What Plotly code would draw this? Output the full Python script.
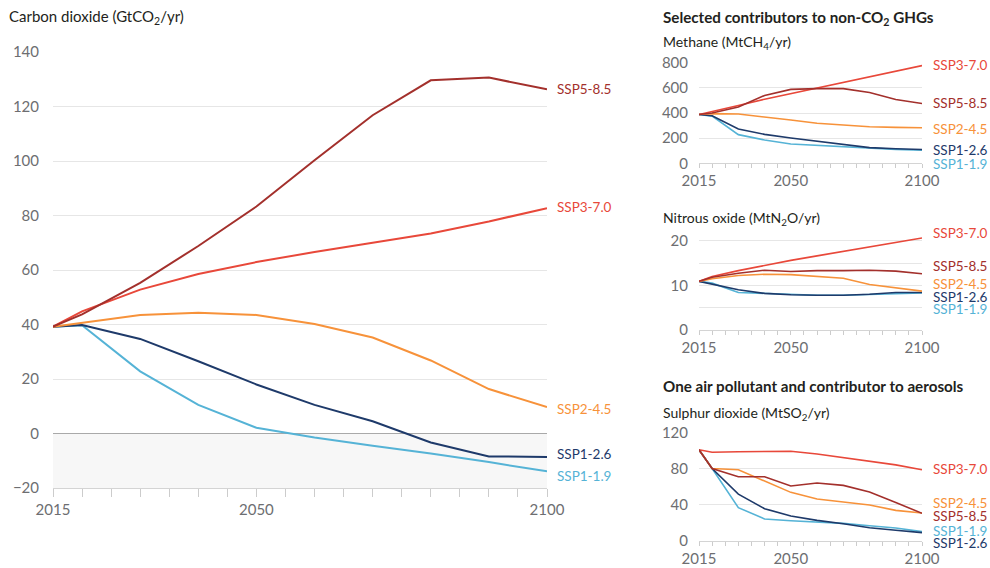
import plotly.graph_objects as go

# ---------------------------------------------------------------------------
# Emission pathways by scenario (IPCC SSP scenarios)
# ---------------------------------------------------------------------------
years = [2015, 2020, 2030, 2040, 2050, 2060, 2070, 2080, 2090, 2100]
scenarios = ["SSP1-1.9", "SSP1-2.6", "SSP2-4.5", "SSP3-7.0", "SSP5-8.5"]

# Carbon dioxide (GtCO2/yr)
co2_ssp119 = [39.2, 39.7, 22.8, 10.5, 2.1, -1.5, -4.5, -7.3, -10.5, -13.9]
co2_ssp126 = [39.2, 39.8, 34.7, 26.5, 18.0, 10.5, 4.5, -3.3, -8.4, -8.6]
co2_ssp245 = [39.2, 40.6, 43.5, 44.3, 43.5, 40.2, 35.2, 26.8, 16.3, 9.7]
co2_ssp370 = [39.2, 44.8, 52.8, 58.5, 62.9, 66.6, 70.0, 73.4, 77.8, 82.7]
co2_ssp585 = [39.2, 43.7, 55.3, 68.8, 83.3, 100.3, 116.8, 129.6, 130.6, 126.3]

# Methane (MtCH4/yr)
ch4_ssp119 = [388, 375, 228, 185, 154, 143, 132, 117, 111, 104]
ch4_ssp126 = [388, 378, 273, 230, 201, 175, 151, 125, 116, 110]
ch4_ssp245 = [388, 395, 392, 371, 344, 318, 305, 291, 286, 283]
ch4_ssp370 = [388, 410, 460, 510, 555, 600, 643, 687, 733, 777]
ch4_ssp585 = [388, 400, 447, 540, 588, 594, 594, 563, 508, 476]

# Nitrous oxide (MtN2O/yr)
n2o_ssp119 = [10.9, 10.5, 8.4, 8.2, 7.9, 7.8, 7.8, 8.0, 8.2, 8.3]
n2o_ssp126 = [10.9, 10.3, 9.0, 8.2, 7.9, 7.8, 7.8, 8.0, 8.4, 8.4]
n2o_ssp245 = [10.9, 11.5, 12.2, 12.5, 12.4, 12.0, 11.6, 10.2, 9.4, 8.7]
n2o_ssp370 = [10.9, 12.0, 13.3, 14.5, 15.6, 16.6, 17.6, 18.6, 19.6, 20.6]
n2o_ssp585 = [10.9, 11.8, 12.7, 13.4, 13.1, 13.3, 13.3, 13.4, 13.2, 12.6]

# Sulphur dioxide (MtSO2/yr)
so2_ssp119 = [100.7, 80.0, 36.8, 24.3, 22.4, 21.3, 19.5, 16.9, 14.3, 10.3]
so2_ssp126 = [100.7, 80.0, 51.8, 35.7, 27.6, 22.8, 19.1, 14.7, 11.8, 9.2]
so2_ssp245 = [100.7, 80.0, 78.7, 66.5, 53.7, 46.3, 42.6, 39.7, 33.8, 30.9]
so2_ssp370 = [100.7, 98.0, 98.5, 99.0, 99.0, 96.0, 92.0, 87.5, 84.0, 78.7]
so2_ssp585 = [100.7, 80.0, 71.0, 71.0, 60.7, 64.0, 61.4, 54.0, 42.6, 30.5]

# ---------------------------------------------------------------------------
# Styling
# ---------------------------------------------------------------------------
FONT = "Lato, 'Open Sans', sans-serif"
TICK_GREY = "#6d6e71"
TEXT_DARK = "#231f20"
GRID = "#e6e6e6"

colors = {
    "SSP1-1.9": "#55b3d6",
    "SSP1-2.6": "#1e3a6a",
    "SSP2-4.5": "#f7923a",
    "SSP3-7.0": "#e8483a",
    "SSP5-8.5": "#a3302c",
}

panels = [
    # (series per scenario, x axis id, y axis id, line width)
    ([co2_ssp119, co2_ssp126, co2_ssp245, co2_ssp370, co2_ssp585], "x", "y", 2.0),
    ([ch4_ssp119, ch4_ssp126, ch4_ssp245, ch4_ssp370, ch4_ssp585], "x2", "y2", 1.6),
    ([n2o_ssp119, n2o_ssp126, n2o_ssp245, n2o_ssp370, n2o_ssp585], "x3", "y3", 1.6),
    ([so2_ssp119, so2_ssp126, so2_ssp245, so2_ssp370, so2_ssp585], "x4", "y4", 1.6),
]

W, H = 990, 568

# vertical pixel position of the end-of-line scenario labels, nudged apart
label_px = [
    {"SSP1-1.9": 476, "SSP1-2.6": 454, "SSP2-4.5": 409, "SSP3-7.0": 207, "SSP5-8.5": 89},
    {"SSP1-1.9": 164, "SSP1-2.6": 150, "SSP2-4.5": 129, "SSP3-7.0": 65, "SSP5-8.5": 103},
    {"SSP1-1.9": 309, "SSP1-2.6": 297, "SSP2-4.5": 284, "SSP3-7.0": 233, "SSP5-8.5": 266},
    {"SSP1-1.9": 531, "SSP1-2.6": 543, "SSP2-4.5": 503, "SSP3-7.0": 469, "SSP5-8.5": 516},
]
label_x_px = [555, 931, 931, 931]


def px_x(p):
    return p / W


def px_y(p):
    return 1 - p / H


fig = go.Figure()

# light shading below zero in the CO2 panel
fig.add_shape(type="rect", xref="x", yref="y", x0=2015, x1=2100, y0=-20, y1=0,
              fillcolor="#f7f7f7", line_width=0, layer="below")

annotations = []
for (series, xa, ya, lw), labs, lx in zip(panels, label_px, label_x_px):
    for name, vals in zip(scenarios, series):
        fig.add_trace(go.Scatter(
            x=years, y=vals, mode="lines", name=name,
            line=dict(color=colors[name], width=lw),
            xaxis=xa, yaxis=ya, hoverinfo="skip", showlegend=False,
        ))
        annotations.append(dict(
            x=px_x(lx), y=px_y(labs[name]), xref="paper", yref="paper",
            text=name, showarrow=False, xanchor="left", yanchor="middle",
            font=dict(family=FONT, size=13.5, color=colors[name]),
        ))


def title(text, xp, yp, size, bold=False):
    annotations.append(dict(
        x=px_x(xp), y=px_y(yp), xref="paper", yref="paper",
        text=f"<b>{text}</b>" if bold else text, showarrow=False,
        xanchor="left", yanchor="middle",
        font=dict(family=FONT, size=size, color=TEXT_DARK),
    ))


title("Carbon dioxide (GtCO<sub>2</sub>/yr)", 7, 17, 15)
title("Selected contributors to non-CO<sub>2</sub> GHGs", 661, 18, 15.2, bold=True)
title("Methane (MtCH<sub>4</sub>/yr)", 661, 42, 14)
title("Nitrous oxide (MtN<sub>2</sub>O/yr)", 661, 218, 14)
title("One air pollutant and contributor to aerosols", 661, 386, 15.2, bold=True)
title("Sulphur dioxide (MtSO<sub>2</sub>/yr)", 661, 413, 14)


def x_axis(domain, anchor, ticklen):
    return dict(
        domain=domain, anchor=anchor, range=[2015, 2100],
        tickvals=[2015, 2050, 2100], showgrid=False, zeroline=False,
        showline=True, linecolor="#d4d4d4", linewidth=1,
        ticks="outside", ticklen=ticklen, tickcolor="#cccccc", tickwidth=1,
        minor=dict(dtick=5, tick0=2015, ticks="outside", ticklen=ticklen,
                   tickcolor="#cccccc", tickwidth=1, showgrid=False),
        tickfont=dict(family=FONT, size=15, color=TICK_GREY),
        fixedrange=True, automargin=False,
    )


def y_axis(domain, anchor, rng, tickvals, ticktext=None, standoff=10):
    d = dict(
        domain=domain, anchor=anchor, range=rng, tickvals=tickvals,
        showgrid=True, gridcolor=GRID, gridwidth=1, zeroline=False,
        showline=False, ticks="", ticklabelstandoff=standoff,
        tickfont=dict(family=FONT, size=15, color=TICK_GREY),
        fixedrange=True, automargin=False,
    )
    if ticktext is not None:
        d["ticktext"] = ticktext
    return d


main_x = [px_x(53), px_x(547)]
side_x = [px_x(699), px_x(922)]

yaxis_main = y_axis([px_y(488), px_y(52)], "x", [-20, 140],
                    [-20, 0, 20, 40, 60, 80, 100, 120, 140], standoff=13)
yaxis_main.update(zeroline=True, zerolinecolor="#a9a9a9", zerolinewidth=1.2)

fig.update_layout(
    width=W, height=H, autosize=False,
    margin=dict(l=0, r=0, t=0, b=0, pad=0, autoexpand=False),
    paper_bgcolor="white", plot_bgcolor="rgba(0,0,0,0)",
    showlegend=False,
    font=dict(family=FONT),
    xaxis=x_axis(main_x, "y", 8),
    yaxis=yaxis_main,
    xaxis2=x_axis(side_x, "y2", 4),
    yaxis2=y_axis([px_y(163.3), px_y(62.7)], "x2", [0, 800], [0, 200, 400, 600, 800]),
    xaxis3=x_axis(side_x, "y3", 4),
    yaxis3=y_axis([px_y(330), px_y(231.8)], "x3", [0, 22], [0, 5, 10, 15, 20],
                  ["0", "", "10", "", "20"]),
    xaxis4=x_axis(side_x, "y4", 4),
    yaxis4=y_axis([px_y(541), px_y(432.3)], "x4", [0, 120], [0, 40, 80, 120]),
    annotations=annotations,
)

fig.write_html("out.html")
